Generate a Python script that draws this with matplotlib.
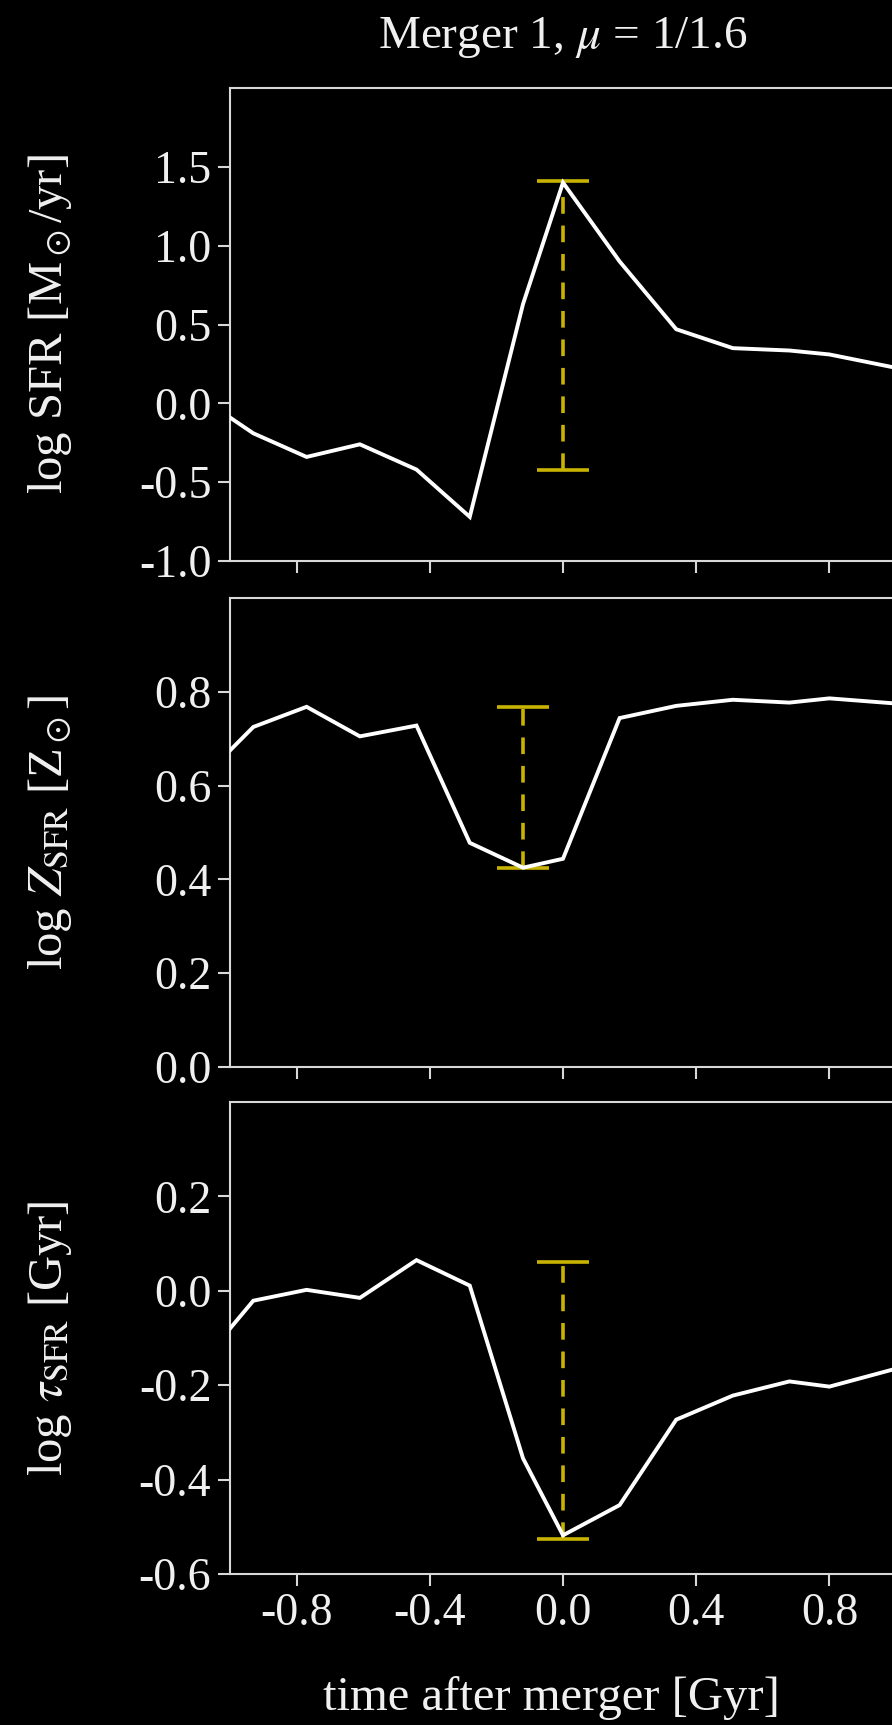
import matplotlib
matplotlib.use("Agg")
import matplotlib.pyplot as plt

plt.rcParams['font.family'] = 'serif'
plt.rcParams['font.serif'] = ['Liberation Serif', 'DejaVu Serif']
plt.rcParams['mathtext.fontset'] = 'stix'
plt.rcParams['axes.unicode_minus'] = False
plt.rcParams['lines.scale_dashes'] = False

# ---- data ----
time = [-1.0, -0.93, -0.77, -0.61, -0.44, -0.28, -0.12, 0.0, 0.17, 0.34, 0.51, 0.68, 0.80, 1.0]
log_sfr = [-0.09, -0.19, -0.34, -0.26, -0.42, -0.72, 0.63, 1.40, 0.90, 0.47, 0.35, 0.335, 0.31, 0.225]
log_z = [0.675, 0.725, 0.768, 0.705, 0.728, 0.478, 0.425, 0.444, 0.744, 0.770, 0.783, 0.777, 0.786, 0.775]
log_tau = [-0.080, -0.021, 0.002, -0.015, 0.065, 0.011, -0.355, -0.518, -0.454, -0.273, -0.222, -0.192, -0.203, -0.165]

# errorbars: x, low, high
err_x = [0.0, -0.12, 0.0]
err_low = [-0.425, 0.425, -0.525]
err_high = [1.41, 0.768, 0.062]

ylims = [(-1.0, 2.0), (0.0, 1.0), (-0.6, 0.4)]
yticks = [[-1.0, -0.5, 0.0, 0.5, 1.0, 1.5],
          [0.0, 0.2, 0.4, 0.6, 0.8],
          [-0.6, -0.4, -0.2, 0.0, 0.2]]
ytick_labels = [["-1.0", "-0.5", "0.0", "0.5", "1.0", "1.5"],
                ["0.0", "0.2", "0.4", "0.6", "0.8"],
                ["-0.6", "-0.4", "-0.2", "0.0", "0.2"]]
xticks = [-0.8, -0.4, 0.0, 0.4, 0.8]
xtick_labels = ["-0.8", "-0.4", "0.0", "0.4", "0.8"]
ylabels = [r"log SFR [M$_\odot$/yr]",
           r"log $Z_{\mathrm{SFR}}$ [Z$_\odot$]",
           r"log $\tau_{\mathrm{SFR}}$ [Gyr]"]
series = [log_sfr, log_z, log_tau]

W, H = 892, 1725
fig = plt.figure(figsize=(W / 100, H / 100), dpi=100, facecolor='black')

fg = '#f0f0f0'
spine_c = '#d8d8d8'
yellow = '#c8b400'

# panel pixel boxes (top, bottom)
boxes = [(88, 561), (598, 1067), (1102, 1574)]
left_px, right_px = 230, 896

for i in range(3):
    top, bot = boxes[i]
    ax = fig.add_axes([left_px / W, 1 - bot / H, (right_px - left_px) / W, (bot - top) / H])
    ax.set_facecolor('black')
    ax.plot(time, series[i], color='white', lw=2.8, solid_joinstyle='miter', zorder=3)
    mid = (err_low[i] + err_high[i]) / 2
    half = (err_high[i] - err_low[i]) / 2
    eb = ax.errorbar([err_x[i]], [mid], yerr=[[half], [half]], fmt='none',
                     ecolor=yellow, elinewidth=2.6, capsize=19, capthick=2.6, zorder=2)
    eb[2][0].set_linestyle((0, (12, 8.5)))
    ax.set_yticks(yticks[i])
    ax.set_yticklabels(ytick_labels[i])
    ax.set_xticks(xticks)
    ax.set_xlim(-1.0, 1.0)
    ax.set_ylim(*ylims[i])
    if i == 2:
        ax.set_xticklabels(xtick_labels)
        ax.set_xlabel("time after merger [Gyr]", fontsize=35, color=fg, va='center')
        ax.xaxis.set_label_coords((551 - left_px) / (right_px - left_px), -(1698 - bot) / (bot - top))
    else:
        ax.set_xticklabels([])
    ax.tick_params(axis='both', direction='out', length=8.5, width=1.5, colors=spine_c,
                   labelcolor=fg, labelsize=33, pad=5)
    for s in ax.spines.values():
        s.set_color(spine_c)
        s.set_linewidth(1.5)
    ax.set_ylabel(ylabels[i], fontsize=35, color=fg, va='center')
    ax.yaxis.set_label_coords(-(left_px - 50) / (right_px - left_px), 0.5)
    if i == 0:
        ax.set_title(r"Merger 1, $\mu$ = 1/1.6", fontsize=34, color=fg,
                     y=1 + (88 - 46) / (bot - top), va='center')

fig.savefig("out.png", dpi=100, facecolor='black')
